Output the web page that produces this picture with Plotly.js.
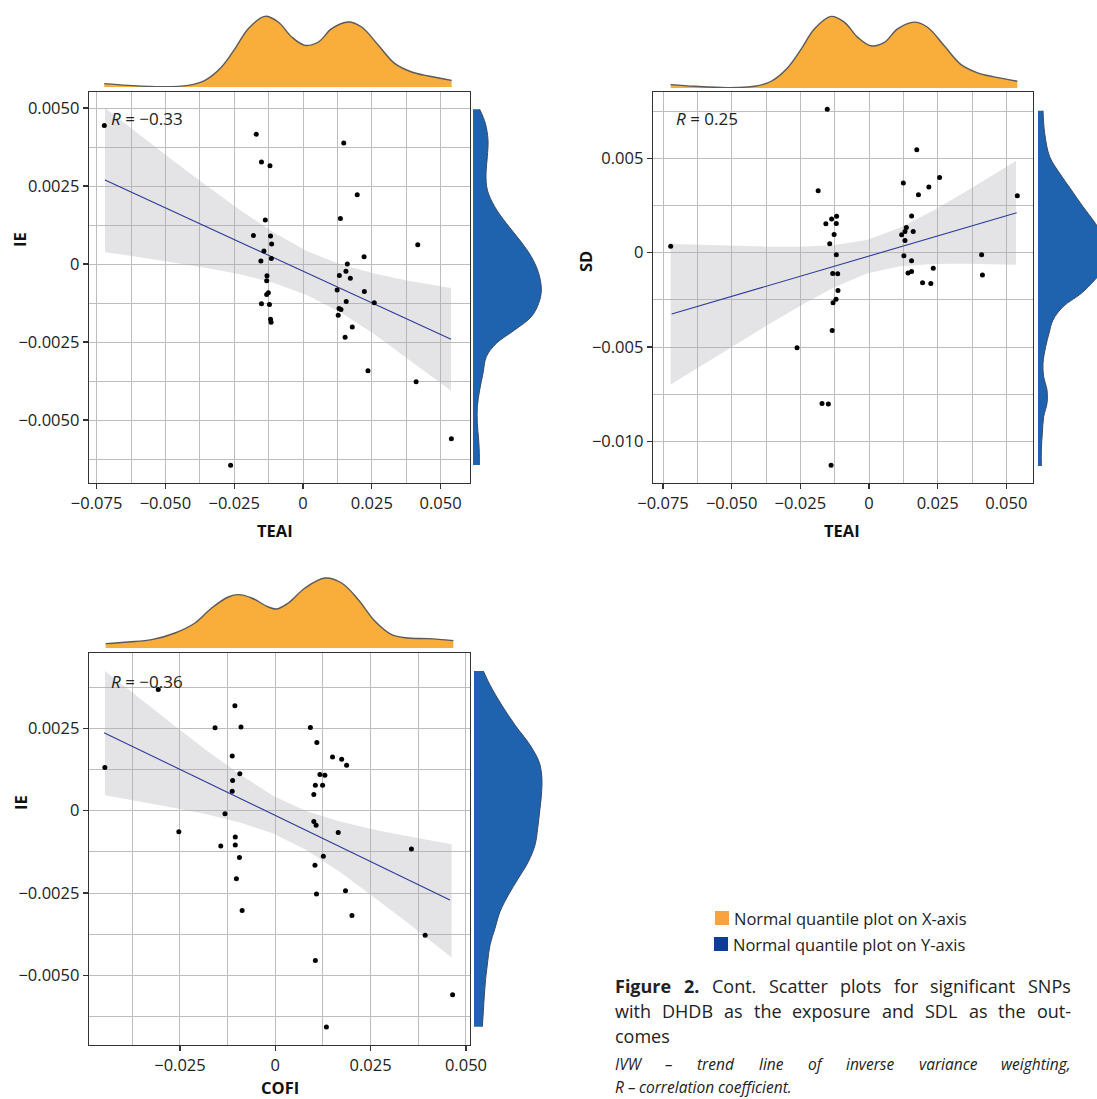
<!DOCTYPE html>
<html><head><meta charset="utf-8">
<script src="https://cdn.plot.ly/plotly-3.0.1.min.js"></script>
<style>html,body{margin:0;padding:0;background:#fff;}#chart{width:1097px;height:1099px;}</style>
</head><body><div id="chart"></div>
<script>
// ---------- DATA ----------
// Panel 1: TEAI (x) vs IE (y)
const p1X = [-0.0722,-0.0170,0.0148,-0.0151,-0.0120,0.0197,-0.0137,0.0136,-0.0180,-0.0118,-0.0114,0.0417,-0.0142,0.0222,-0.0115,-0.0153,0.0161,0.0156,0.0132,-0.0131,0.0172,-0.0132,0.0124,0.0223,-0.0126,-0.0132,0.0157,0.0259,-0.0151,-0.0122,0.0131,0.0138,0.0128,-0.0118,-0.0116,0.0179,0.0153,0.0236,0.0411,0.0539,-0.0263];
const p1Y = [0.00444,0.00416,0.00388,0.00327,0.00315,0.00222,0.00141,0.00146,0.00091,0.00090,0.00064,0.00062,0.00042,0.00023,0.00018,0.00010,0.00000,-0.00023,-0.00037,-0.00038,-0.00046,-0.00054,-0.00083,-0.00088,-0.00092,-0.00098,-0.00120,-0.00124,-0.00127,-0.00130,-0.00143,-0.00146,-0.00164,-0.00177,-0.00187,-0.00202,-0.00235,-0.00342,-0.00377,-0.00560,-0.00645];
const p1LineX = [-0.07195, 0.05378];
const p1LineY = [0.00269, -0.00241];
const p1BandX = [-0.07195,-0.05923,-0.04712,-0.03500,-0.02289,-0.01078,0.00133,0.01344,0.02556,0.03767,0.05378];
const p1BandUp = [0.00500,0.00413,0.00331,0.00251,0.00173,0.00102,0.00042,-0.00001,-0.00030,-0.00053,-0.00077];
const p1BandLo = [0.00038,0.00022,0.00005,-0.00013,-0.00033,-0.00060,-0.00099,-0.00154,-0.00223,-0.00300,-0.00406];
const p1R = "R = \u22120.33";

// Panel 2: TEAI (x) vs SD (y)
const p2X = [-0.0152,0.0174,0.0257,0.0125,0.0218,-0.0185,0.0180,0.0540,-0.0118,0.0155,-0.0136,-0.0157,-0.0119,0.0136,0.0131,0.0161,0.0119,-0.0127,0.0131,-0.0143,-0.0722,-0.0119,0.0410,0.0127,0.0155,0.0234,0.0155,0.0142,-0.0132,-0.0114,0.0413,0.0195,0.0225,-0.0113,-0.0120,-0.0131,-0.0134,-0.0262,-0.0171,-0.0148,-0.0138];
const p2Y = [0.00760,0.00546,0.00398,0.00369,0.00348,0.00329,0.00307,0.00302,0.00193,0.00194,0.00178,0.00154,0.00155,0.00133,0.00113,0.00113,0.00095,0.00097,0.00065,0.00048,0.00034,-0.00011,-0.00011,-0.00016,-0.00042,-0.00083,-0.00099,-0.00108,-0.00110,-0.00111,-0.00118,-0.00159,-0.00163,-0.00200,-0.00247,-0.00265,-0.00413,-0.00504,-0.00799,-0.00802,-0.01127];
const p2LineX = [-0.07185, 0.05376];
const p2LineY = [-0.00325, 0.00212];
const p2BandX = [-0.07221,-0.06153,-0.04939,-0.03726,-0.02512,-0.01299,-0.00085,0.01129,0.02342,0.03556,0.05352];
const p2BandUp = [0.00046,0.00041,0.00035,0.00032,0.00031,0.00039,0.00067,0.00132,0.00224,0.00327,0.00486];
const p2BandLo = [-0.00699,-0.00603,-0.00494,-0.00386,-0.00282,-0.00186,-0.00110,-0.00072,-0.00060,-0.00058,-0.00064];
const p2R = "R = 0.25";

// Panel 3: COFI (x) vs IE (y)
const p3X = [-0.0307,-0.0106,-0.0158,-0.0090,0.0092,0.0109,-0.0113,0.0150,0.0174,0.0187,-0.0447,-0.0093,0.0117,0.0130,-0.0112,0.0105,0.0124,-0.0113,0.0101,-0.0132,0.0101,0.0107,-0.0253,0.0165,-0.0105,-0.0105,-0.0143,0.0357,0.0126,-0.0094,0.0104,-0.0102,0.0184,0.0108,-0.0087,0.0201,0.0393,0.0105,0.0465,0.0134];
const p3Y = [0.00368,0.00319,0.00252,0.00254,0.00253,0.00207,0.00166,0.00163,0.00156,0.00138,0.00131,0.00112,0.00110,0.00108,0.00092,0.00077,0.00077,0.00059,0.00049,-0.00009,-0.00033,-0.00044,-0.00064,-0.00066,-0.00080,-0.00104,-0.00107,-0.00116,-0.00138,-0.00142,-0.00166,-0.00207,-0.00243,-0.00253,-0.00303,-0.00318,-0.00378,-0.00455,-0.00559,-0.00657];
const p3LineX = [-0.04493, 0.04580];
const p3LineY = [0.00237, -0.00271];
const p3BandX = [-0.04467,-0.03549,-0.02675,-0.01801,-0.00927,-0.00052,0.00822,0.01696,0.02570,0.03444,0.04624];
const p3BandUp = [0.00424,0.00340,0.00261,0.00183,0.00110,0.00045,-0.00002,-0.00033,-0.00057,-0.00077,-0.00102];
const p3BandLo = [0.00047,0.00028,0.00009,-0.00011,-0.00036,-0.00069,-0.00120,-0.00186,-0.00261,-0.00338,-0.00446];
const p3R = "R = \u22120.36";

// Marginal densities (relative heights)
const teaiDensX = [-0.0722,-0.0635,-0.0514,-0.0417,-0.0356,-0.0296,-0.0247,-0.0199,-0.0138,-0.0090,-0.0041,0.0007,0.0056,0.0104,0.0165,0.0213,0.0274,0.0334,0.0395,0.0455,0.0540];
const teaiDensH = [10,5,1,5,20,60,115,175,212,195,150,125,135,175,195,180,125,70,45,33,20];
const cofiDensX = [-0.04449,-0.03854,-0.03242,-0.02630,-0.02106,-0.01669,-0.01232,-0.00970,-0.00620,-0.00183,0.00036,0.00342,0.00779,0.01303,0.01740,0.02177,0.02615,0.03052,0.03489,0.04013,0.04669];
const cofiDensH = [13,18,25,45,75,120,153,160,150,123,117,135,180,210,195,145,80,40,30,28,22];
const ie1DensY = [0.004957,0.004509,0.003974,0.00344,0.002906,0.002372,0.001838,0.001303,0.000769,0.000235,-0.000299,-0.000833,-0.001261,-0.001688,-0.002115,-0.002543,-0.00297,-0.003504,-0.004038,-0.004573,-0.005107,-0.005641,-0.006068,-0.006442];
const ie1DensW = [20,37,45,43,39,43,65,100,140,175,197,205,197,175,125,70,40,30,20,13,13,17,19,19];
const sdDensY = [0.007528,0.006327,0.00509,0.004207,0.003323,0.00244,0.001733,0.001027,0.000143,-0.00074,-0.001447,-0.002154,-0.002861,-0.003567,-0.004274,-0.004981,-0.005864,-0.006571,-0.007277,-0.007984,-0.008691,-0.009574,-0.010458,-0.011306];
const sdDensW = [15,20,35,65,100,135,165,190,205,200,170,130,75,45,33,23,15,17,27,27,17,13,10,10];
const ie3DensY = [0.004242,0.003817,0.00321,0.002602,0.001995,0.001489,0.001084,0.000578,0.000072,-0.000535,-0.001042,-0.001548,-0.002054,-0.00256,-0.003066,-0.003572,-0.004078,-0.004584,-0.00509,-0.005596,-0.006102,-0.006558];
const ie3DensW = [28,48,83,123,168,195,203,203,198,191,183,163,133,103,78,63,48,41,35,31,28,25];

// Tick labels
const xTickVals1 = [-0.075,-0.05,-0.025,0,0.025,0.05];
const xTickText1 = ["\u22120.075","\u22120.050","\u22120.025","0","0.025","0.050"];
const yTickVals1 = [0.005,0.0025,0,-0.0025,-0.005];
const yTickText1 = ["0.0050","0.0025","0","\u22120.0025","\u22120.0050"];
const yTickVals2 = [0.005,0,-0.005,-0.010];
const yTickText2 = ["0.005","0","\u22120.005","\u22120.010"];
const xTickVals3 = [-0.025,0,0.025,0.05];
const xTickText3 = ["\u22120.025","0","0.025","0.050"];

// ---------- STYLE ----------
const W = 1097, H = 1099;
const fx = p => p / W;
const fy = p => 1 - p / H;
const FONT = '"Open Sans", "Noto Sans", sans-serif';
const ORANGE = '#f9ad3a', BLUE = '#1f62ae', BAND = 'rgba(170,172,176,0.32)', TREND = '#2d3c96';
const GRID = '#bdbdbd';

function scatterAxis(domain, range, tv, tt, minorStep, anchor) {
  return {domain, range, anchor, tickmode: 'array', tickvals: tv, ticktext: tt,
    ticks: 'outside', ticklen: 5, tickwidth: 1.2, tickcolor: '#333',
    showgrid: true, gridcolor: GRID, gridwidth: 1, zeroline: false,
    showline: true, mirror: true, linecolor: '#333', linewidth: 1.3,
    minor: {tickmode: 'linear', tick0: 0, dtick: minorStep, showgrid: true, gridcolor: GRID, gridwidth: 1, ticks: ''},
    tickfont: {family: FONT, size: 16.5, color: '#222'}};
}
function hidden(domain, range, anchor) {
  return {domain, range, anchor, visible: false, showgrid: false, zeroline: false, fixedrange: true};
}

const traces = [];
function panel(xa, ya, X, Y, LX, LY, BX, BU, BL) {
  traces.push({type: 'scatter', mode: 'lines', x: BX.concat(BX.slice().reverse()), y: BU.concat(BL.slice().reverse()),
    fill: 'toself', fillcolor: BAND, line: {width: 0}, xaxis: xa, yaxis: ya, hoverinfo: 'skip'});
  traces.push({type: 'scatter', mode: 'lines', x: LX, y: LY, line: {color: TREND, width: 1.1}, xaxis: xa, yaxis: ya});
  traces.push({type: 'scatter', mode: 'markers', x: X, y: Y, marker: {color: '#000', size: 5}, xaxis: xa, yaxis: ya, cliponaxis: false});
}
function topDens(xa, ya, DX, DH) {
  traces.push({type: 'scatter', mode: 'lines', x: DX, y: DH, fill: 'tozeroy', fillcolor: ORANGE,
    line: {color: '#5a5a5a', width: 1.4, shape: 'spline', smoothing: 1}, xaxis: xa, yaxis: ya});
}
function rightDens(xa, ya, DY, DW) {
  traces.push({type: 'scatter', mode: 'lines', x: DW, y: DY, fill: 'tozerox', fillcolor: BLUE,
    line: {color: '#3a4a66', width: 1, shape: 'spline', smoothing: 1}, xaxis: xa, yaxis: ya});
}

panel('x', 'y', p1X, p1Y, p1LineX, p1LineY, p1BandX, p1BandUp, p1BandLo);
topDens('x2', 'y2', teaiDensX, teaiDensH);
rightDens('x3', 'y3', ie1DensY, ie1DensW);
panel('x4', 'y4', p2X, p2Y, p2LineX, p2LineY, p2BandX, p2BandUp, p2BandLo);
topDens('x5', 'y5', teaiDensX, teaiDensH);
rightDens('x6', 'y6', sdDensY, sdDensW);
panel('x7', 'y7', p3X, p3Y, p3LineX, p3LineY, p3BandX, p3BandUp, p3BandLo);
topDens('x8', 'y8', cofiDensX, cofiDensH);
rightDens('x9', 'y9', ie3DensY, ie3DensW);

const r1x = [-0.07776, 0.06068], r1y = [-0.007019, 0.005513];
const r2x = [-0.07864, 0.05971], r2y = [-0.012207, 0.008518];
const r3x = [-0.04886, 0.05106], r3y = [-0.007115, 0.004789];
const d1x = [fx(89), fx(470)], d1y = [fy(483), fy(92)];
const d2x = [fx(653), fx(1033)], d2y = [fy(483), fy(92)];
const d3x = [fx(89), fx(470)], d3y = [fy(1045), fy(653)];

const layout = {
  width: W, height: H, margin: {l: 0, r: 0, t: 0, b: 0}, showlegend: false,
  paper_bgcolor: '#fff', plot_bgcolor: '#fff', font: {family: FONT, color: '#222'},
  xaxis: scatterAxis(d1x, r1x, xTickVals1, xTickText1, 0.0125, 'y'),
  yaxis: scatterAxis(d1y, r1y, yTickVals1, yTickText1, 0.00125, 'x'),
  xaxis2: hidden(d1x, r1x, 'y2'), yaxis2: hidden([fy(87), fy(10)], [0, 231], 'x2'),
  xaxis3: hidden([fx(473), fx(548)], [0, 225], 'y3'), yaxis3: hidden(d1y, r1y, 'x3'),
  xaxis4: scatterAxis(d2x, r2x, xTickVals1, xTickText1, 0.0125, 'y4'),
  yaxis4: scatterAxis(d2y, r2y, yTickVals2, yTickText2, 0.0025, 'x4'),
  xaxis5: hidden(d2x, r2x, 'y5'), yaxis5: hidden([fy(88), fy(10)], [0, 231], 'x5'),
  xaxis6: hidden([fx(1038), 1], [0, 177], 'y6'), yaxis6: hidden(d2y, r2y, 'x6'),
  xaxis7: scatterAxis(d3x, r3x, xTickVals3, xTickText3, 0.0125, 'y7'),
  yaxis7: scatterAxis(d3y, r3y, yTickVals1, yTickText1, 0.00125, 'x7'),
  xaxis8: hidden(d3x, r3x, 'y8'), yaxis8: hidden([fy(648), fy(571)], [0, 231], 'x8'),
  xaxis9: hidden([fx(474), fx(549)], [0, 225], 'y9'), yaxis9: hidden(d3y, r3y, 'x9'),
  annotations: [], shapes: []
};
const A = layout.annotations;
function txt(text, px, py, opts) {
  A.push(Object.assign({xref: 'paper', yref: 'paper', x: fx(px), y: fy(py), text, showarrow: false,
    xanchor: 'center', yanchor: 'middle', font: {family: FONT, size: 16.5, color: '#222'}}, opts || {}));
}
// axis titles
const TF = {family: FONT, size: 16.5, color: '#111'};
txt('<b>IE</b>', 20, 240, {textangle: -90, font: TF});
txt('<b>SD</b>', 585, 262, {textangle: -90, font: TF});
txt('<b>IE</b>', 20, 803, {textangle: -90, font: TF});
txt('<b>TEAI</b>', 275, 530, {font: TF});
txt('<b>TEAI</b>', 842, 530, {font: TF});
txt('<b>COFI</b>', 280, 1087, {font: TF});
// R labels
const rlab = s => '<i>R</i>' + s.slice(1);
const RF = {family: FONT, size: 17, color: '#222'};
txt(rlab(p1R), 109, 118, {xanchor: 'left', font: RF});
txt(rlab(p2R), 674, 118, {xanchor: 'left', font: RF});
txt(rlab(p3R), 109, 681, {xanchor: 'left', font: RF});
// legend
layout.shapes.push({type: 'rect', xref: 'paper', yref: 'paper', x0: fx(715), x1: fx(729), y0: fy(925), y1: fy(911), fillcolor: '#f8a340', line: {width: 0}});
layout.shapes.push({type: 'rect', xref: 'paper', yref: 'paper', x0: fx(714), x1: fx(728), y0: fy(951), y1: fy(937), fillcolor: '#0e3d96', line: {width: 0}});
txt('Normal quantile plot on X-axis', 732, 918, {xanchor: 'left'});
txt('Normal quantile plot on Y-axis', 731, 944, {xanchor: 'left'});

// caption (justified lines built from measured word widths)
const cv = document.createElement('canvas').getContext('2d');
function measure(w, size) {
  cv.font = (w.i ? 'italic ' : '') + (w.b ? 'bold ' : '') + size + 'px "Open Sans"';
  return cv.measureText(w.t).width;
}
function line(words, x0, x1, py, size, justify) {
  const ws = words.map(w => measure(w, size));
  const total = ws.reduce((a, b) => a + b, 0);
  const sp = measure({t: ' ', i: words[0].i}, size);
  const gap = justify && words.length > 1 ? Math.max(sp * 0.8, (x1 - x0 - total) / (words.length - 1)) : sp;
  let x = x0;
  words.forEach((w, k) => {
    let t = w.t;
    if (w.b) t = '<b>' + t + '</b>';
    if (w.i) t = '<i>' + t + '</i>';
    A.push({xref: 'paper', yref: 'paper', x: fx(x - 1), y: fy(py), text: t, showarrow: false, xanchor: 'left', yanchor: 'middle',
      font: {family: FONT, size, color: '#222'}});
    x += ws[k] + gap;
  });
}
const W_ = (s, o) => s.split(' ').map(t => Object.assign({t}, o || {}));
line(W_('Figure 2.', {b: true}).concat(W_('Cont. Scatter plots for significant SNPs')), 614, 1070, 986, 18, true);
line(W_('with DHDB as the exposure and SDL as the out-'), 614, 1070, 1011, 18, true);
line(W_('comes'), 614, 1070, 1036, 18, false);
line(W_('IVW \u2013 trend line of inverse variance weighting,', {i: true}), 614, 1070, 1064, 15.5, true);
line(W_('R \u2013 correlation coefficient.', {i: true}), 614, 1070, 1087, 15.5, false);

Plotly.newPlot('chart', traces, layout, {staticPlot: true, displayModeBar: false});
</script></body></html>
